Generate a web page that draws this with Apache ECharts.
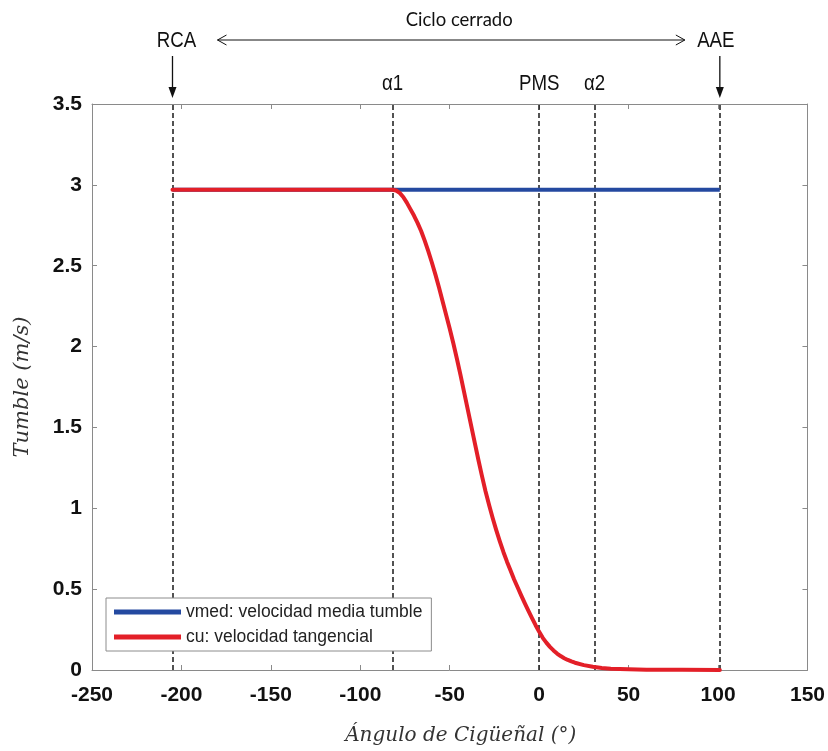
<!DOCTYPE html>
<html>
<head>
<meta charset="utf-8">
<script src="https://cdn.jsdelivr.net/npm/echarts@6/dist/echarts.min.js"></script>
<style>html,body{margin:0;padding:0;background:#fff;}#c{width:828px;height:751px;}</style>
</head>
<body>
<div id="c"></div>
<script>
// ---- data ----
const cuAngle = [-205, -82, -80, -78, -76, -74, -72, -70, -68, -66, -64, -62, -60, -58, -56, -54, -52, -50, -48, -46, -44, -42, -40, -38, -36, -34, -32, -30, -28, -26, -24, -22, -20, -18, -16, -14, -12, -10, -8, -6, -4, -2, 0, 2, 4, 6, 8, 10, 12, 14, 16, 18, 20, 25, 30, 35, 40, 50, 60, 80, 101];
const cuValue = [2.97, 2.97, 2.965, 2.95, 2.925, 2.89, 2.85, 2.81, 2.765, 2.715, 2.655, 2.59, 2.52, 2.445, 2.365, 2.28, 2.195, 2.11, 2.02, 1.925, 1.825, 1.72, 1.615, 1.51, 1.405, 1.30, 1.20, 1.105, 1.02, 0.94, 0.865, 0.795, 0.73, 0.67, 0.615, 0.56, 0.51, 0.46, 0.412, 0.366, 0.321, 0.277, 0.236, 0.199, 0.169, 0.143, 0.121, 0.102, 0.086, 0.073, 0.062, 0.053, 0.045, 0.03, 0.02, 0.013, 0.008, 0.004, 0.002, 0.001, 0.0];
const vmedAngle = [-205, 101];
const vmedValue = [2.97, 2.97];
const eventAngles = [-205, -82, 0, 31, 101];
const eventLabels = ['RCA', 'α1', 'PMS', 'α2', 'AAE'];
const cycleLabel = 'Ciclo cerrado';
const seriesNames = ['vmed: velocidad media tumble', 'cu: velocidad tangencial'];
const xTickMin = -250, xTickMax = 150, xTickStep = 50;
const yTickMin = 0, yTickMax = 3.5, yTickStep = 0.5;
const xTitle = 'Ángulo de Cigüeñal (°)';
const yTitle = 'Tumble (m/s)';

const BLUE = '#2449a0', RED = '#e31f28', AX = '#8a8a8a';
const tickFont = {fontFamily: '"Liberation Sans", Arial', fontSize: 21, fontWeight: 'bold', color: '#111'};
const titleFont = {fontFamily: '"DejaVu Serif", "Liberation Serif", serif', fontStyle: 'italic', fontSize: 20, color: '#333'};

const chart = echarts.init(document.getElementById('c'), null, {renderer: 'canvas'});
const baseX = {type: 'value', min: xTickMin, max: xTickMax, interval: xTickStep, splitLine: {show: false},
  axisLine: {show: true, onZero: false, lineStyle: {color: AX, width: 1}},
  axisTick: {show: true, inside: true, length: 5, lineStyle: {color: AX}}};
const baseY = {type: 'value', min: yTickMin, max: yTickMax, interval: yTickStep, splitLine: {show: false},
  axisLine: {show: true, onZero: false, lineStyle: {color: AX, width: 1}},
  axisTick: {show: true, inside: true, length: 5, lineStyle: {color: AX}}};

chart.setOption({
  animation: false,
  backgroundColor: '#fff',
  grid: {left: 92, right: 20, top: 104, bottom: 81, containLabel: false},
  xAxis: [
    Object.assign({}, baseX, {position: 'bottom', axisLabel: Object.assign({margin: 15}, tickFont),
      name: xTitle, nameLocation: 'middle', nameGap: 56,
      nameTextStyle: Object.assign({padding: [0, 0, 0, 22]}, titleFont)}),
    Object.assign({}, baseX, {position: 'top', axisLabel: {show: false}})
  ],
  yAxis: [
    Object.assign({}, baseY, {position: 'left', axisLabel: Object.assign({margin: 10}, tickFont),
      name: yTitle, nameLocation: 'middle', nameGap: 59, nameRotate: 90,
      nameTextStyle: Object.assign({}, titleFont, {fontSize: 21})}),
    Object.assign({}, baseY, {position: 'right', axisLabel: {show: false}})
  ],
  legend: {
    orient: 'vertical', left: 106, top: 598, padding: [5, 9, 5, 8], itemGap: 7,
    itemWidth: 67, itemHeight: 5, icon: 'rect',
    borderColor: '#8c8c8c', borderWidth: 1, backgroundColor: '#fff', borderRadius: 0,
    textStyle: {fontFamily: '"Liberation Sans", Arial', fontSize: 17.5, color: '#222'},
    data: seriesNames
  },
  series: [
    {
      name: seriesNames[0], type: 'line', showSymbol: false, symbol: 'none',
      data: vmedAngle.map((a, i) => [a, vmedValue[i]]),
      lineStyle: {color: BLUE, width: 4}, itemStyle: {color: BLUE}, z: 3,
      markLine: {
        silent: true, symbol: 'none', label: {show: false},
        lineStyle: {color: '#1a1a1a', type: [5, 3], width: 1.5},
        data: eventAngles.map(a => ({xAxis: a})), z: 2
      }
    },
    {
      name: seriesNames[1], type: 'line', showSymbol: false, symbol: 'none', smooth: false,
      data: cuAngle.map((a, i) => [a, cuValue[i]]),
      lineStyle: {color: RED, width: 4, cap: 'round', join: 'round'}, itemStyle: {color: RED}, z: 4
    }
  ]
});

// annotations above the plot, positioned from the axis scales
function drawAnnotations() {
  const px = v => chart.convertToPixel({xAxisIndex: 0}, v);
  const topY = chart.convertToPixel({yAxisIndex: 0}, yTickMax);
  const els = [];
  const rowHigh = topY - 63, rowLow = topY - 20;
  const labelFont = '22px "Liberation Sans", Arial';
  const last = eventAngles.length - 1;
  eventAngles.forEach((a, i) => {
    const outer = (i === 0 || i === last);
    const x = px(a);
    const shift = i === 0 ? 4 : (i === last ? -4 : 0);
    els.push({type: 'text', x: x + shift, y: outer ? rowHigh : rowLow, scaleX: 0.85,
      style: {text: eventLabels[i], x: 0, y: 0, font: labelFont, fill: '#111', align: 'center', verticalAlign: 'middle'}});
    if (outer) {
      els.push({type: 'line', shape: {x1: x, y1: topY - 48, x2: x, y2: topY - 12}, style: {stroke: '#111', lineWidth: 1.3}});
      els.push({type: 'polygon', shape: {points: [[x - 4, topY - 17], [x + 4, topY - 17], [x, topY - 6]]}, style: {fill: '#111'}});
    }
  });
  const xl = px(eventAngles[0]) + 45, xr = px(eventAngles[last]) - 35;
  const ya = rowHigh - 1;
  els.push({type: 'line', shape: {x1: xl, y1: ya, x2: xr, y2: ya}, style: {stroke: '#111', lineWidth: 1}});
  els.push({type: 'polyline', shape: {points: [[xl + 9, ya - 5], [xl, ya], [xl + 9, ya + 5]]}, style: {stroke: '#111', lineWidth: 1, fill: null}});
  els.push({type: 'polyline', shape: {points: [[xr - 9, ya - 5], [xr, ya], [xr - 9, ya + 5]]}, style: {stroke: '#111', lineWidth: 1, fill: null}});
  els.push({type: 'text', x: (xl + xr) / 2 + 8, y: topY - 84,
    style: {text: cycleLabel, x: 0, y: 0, font: '18.5px Lato, "Open Sans", sans-serif', fill: '#111', align: 'center', verticalAlign: 'middle'}});
  chart.setOption({graphic: {elements: els}});
}
drawAnnotations();
</script>
</body>
</html>
